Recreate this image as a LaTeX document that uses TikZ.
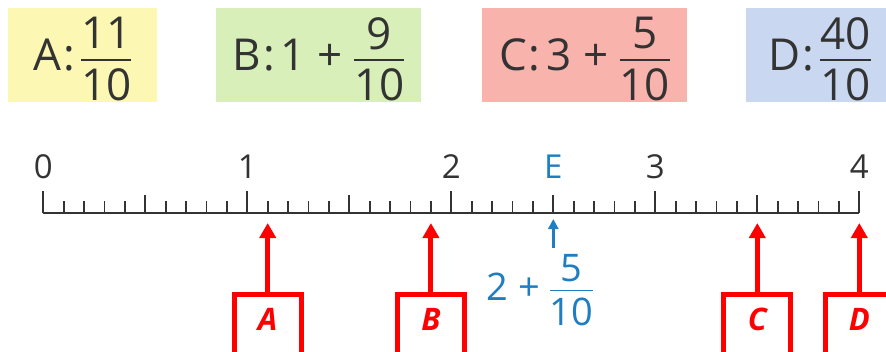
\documentclass[tikz,border=0pt]{standalone}
\usepackage{fontspec}
\setmainfont{Open Sans}
\usetikzlibrary{arrows.meta}
\definecolor{ink}{HTML}{333333}
\definecolor{ptblue}{HTML}{1F7EC2}
\definecolor{markred}{HTML}{FF0000}
\definecolor{cardA}{HTML}{FCF8B3}
\definecolor{cardB}{HTML}{D8EFB9}
\definecolor{cardC}{HTML}{F8B3AC}
\definecolor{cardD}{HTML}{C9D8F0}
% fraction with sans digits
\newcommand{\fr}[2]{\ensuremath{\vcenter{\hbox{\renewcommand\arraystretch{0.6}%
  \setlength\arrayrulewidth{0.045em}%
  \begin{tabular}{@{}c@{}}#1\\[0.02em]\hline\rule{0pt}{0.9em}#2\end{tabular}}}}}
\newcommand{\cl}{\kern2pt:\kern6pt}
\tikzset{
  card/.style={inner sep=0pt, text height=62pt, text depth=32pt, anchor=base,
    font=\fontsize{44}{52}\selectfont, text=ink},
  ticklabel/.style={anchor=base, font=\fontsize{33}{38}\selectfont, text=ink},
  tickmark/.style={line width=1.8pt, draw=ink},
  axisline/.style={line width=2pt, draw=ink, line join=miter},
  markbox/.style={draw=markred, line width=5pt, minimum width=67pt, anchor=base,
    text height=22pt, text depth=20pt, inner xsep=0pt, inner ysep=13.5pt,
    font=\fontsize{31}{36}\selectfont\bfseries\itshape, text=markred},
  markarr/.style={-{Triangle[length=15pt,width=16pt]}, line width=5pt, draw=markred},
  bluearr/.style={-{Triangle[length=10pt,width=10pt]}, line width=2.5pt, draw=ptblue}
}
\begin{document}
\begin{tikzpicture}[x=1pt, y=-1pt]
  \useasboundingbox (0,0) rectangle (886,351);
  \clip (0,0) rectangle (886,351);
  % cards
  \node[card, fill=cardA, minimum width=149pt] (cardA) at (82.5,70) {A\cl\fr{11}{10}};
  \node[card, fill=cardB, minimum width=205pt] (cardB) at (318.5,70) {B\cl1 + \fr{9}{10}};
  \node[card, fill=cardC, minimum width=205pt] (cardC) at (584.5,70) {C\cl3 + \fr{5}{10}};
  \node[card, fill=cardD, minimum width=147pt] (cardD) at (819.5,70) {D\cl\fr{40}{10}};
  % number line
  \draw[axisline] (43.3,212.5) -- (859.3,212.5);
  \foreach \i in {0,...,40} {
    \pgfmathsetmacro{\tk}{ifthenelse(mod(\i,10)==0,21.5,ifthenelse(mod(\i,5)==0,17.5,11.5))}
    \draw[tickmark] (43.3+20.4*\i,212.5) -- ++(0,-\tk);
  }
  \foreach \v in {0,...,4}
    \node[ticklabel] (num\v) at (43.3+204*\v,178) {\v};
  \node[ticklabel, text=ptblue] (labE) at (553.3,178) {E};
  % point E
  \coordinate (eTail) at (553.3,248);
  \coordinate (eTip) at (553.3,219);
  \draw[bluearr] (eTail) -- (eTip);
  \node[anchor=base, font=\fontsize{38}{44}\selectfont, text=ptblue] (eValue) at (540,300) {2 + \fr{5}{10}};
  % marked points
  \foreach \name/\v in {A/1.1, B/1.9, C/3.5, D/4} {
    \coordinate (pt\name) at (43.3+204*\v,223);
    \node[markbox] (mark\name) at (43.3+204*\v,330) {\name};
    \draw[markarr] (mark\name.north) -- (pt\name);
  }
\end{tikzpicture}
\end{document}
